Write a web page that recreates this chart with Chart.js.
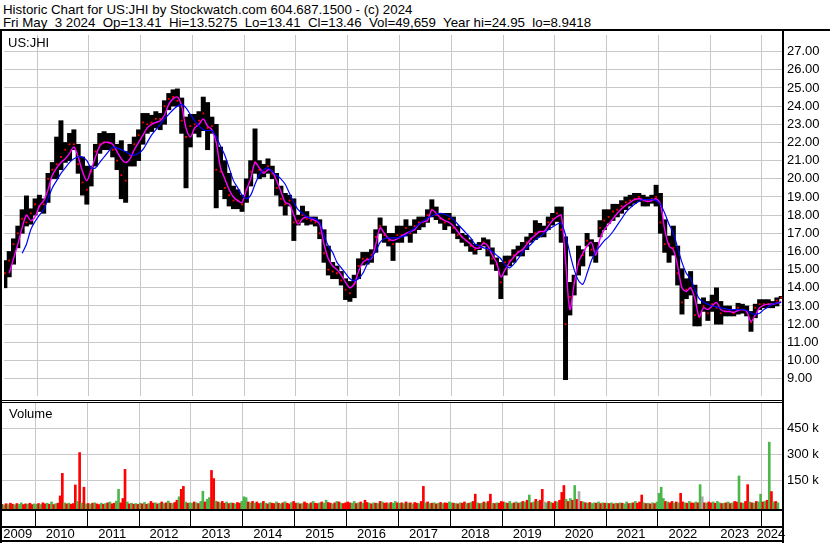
<!DOCTYPE html>
<html>
<head>
<meta charset="utf-8">
<script src="https://cdn.jsdelivr.net/npm/chart.js@4.4.1/dist/chart.umd.min.js"></script>
<style>
  body { margin: 0; background: #fff; }
  #page { position: relative; width: 830px; height: 543px; overflow: hidden;
          font-family: "Liberation Sans", Arial, sans-serif; color: #000; background: #fff; }
  .txt { position: absolute; white-space: pre; line-height: 13px; }
  .hdr { left: 3px; font-size: 13.3px; }
  .lbl { font-size: 13px; }
  .rule { position: absolute; background: #000; }
  .box { position: absolute; }
</style>
</head>
<body>
<div id="page">
  <div class="txt hdr" style="top:3px">Historic Chart for US:JHI by Stockwatch.com 604.687.1500 - (c) 2024</div>
  <div class="txt hdr" style="top:16px">Fri May  3 2024  Op=13.41  Hi=13.5275  Lo=13.41  Cl=13.46  Vol=49,659  Year hi=24.95  lo=8.9418</div>

  <div class="box" style="left:0; top:31px; width:830px; height:369px"><canvas id="priceChart"></canvas></div>
  <div class="box" style="left:0; top:403px; width:830px; height:140px"><canvas id="volChart"></canvas></div>

  <div class="txt lbl" style="left:8px; top:36px">US:JHI</div>
  <div class="txt lbl" style="left:9px; top:407px">Volume</div>

  <!-- frame -->
  <div class="rule" style="left:0; top:29px; width:830px; height:2px"></div>
  <div class="rule" style="left:0; top:29px; width:2px; height:514px"></div>
  <div class="rule" style="left:782px; top:29px; width:2px; height:514px"></div>
  <div class="rule" style="left:0; top:400px; width:782px; height:1px"></div>
  <div class="rule" style="left:0; top:402px; width:782px; height:1px"></div>
  <div class="rule" style="left:0; top:509px; width:784px; height:2px"></div>
  <div class="rule" style="left:0; top:526px; width:784px; height:2px"></div>
  <div class="rule" style="left:0; top:540px; width:784px; height:2px"></div>
</div>

<script>
// monthly bars, May 2009 .. May 2024
const START_YEAR = 2009;
const START_MONTH = 5;

const priceHi = [
  15.5, 16.0, 16.7, 17.4, 18.3, 19.06, 18.35, 18.9,                              // 2009
  19.1, 18.9, 20.3, 20.9, 22.3, 23.2, 22.0, 22.5, 22.7, 21.9, 21.2, 20.7,        // 2010
  20.7, 21.9, 22.5, 22.6, 22.5, 22.5, 21.9, 22.1, 21.5, 21.9, 22.3, 22.7,        // 2011
  23.6, 23.6, 23.5, 23.7, 23.6, 24.3, 24.7, 24.9, 24.95, 24.45, 23.4, 23.55,     // 2012
  23.55, 23.7, 24.5, 24.2, 23.4, 23.0, 21.75, 21.0, 20.3, 19.6, 19.4, 19.1,      // 2013
  20.0, 21.0, 22.75, 21.0, 20.8, 21.1, 20.7, 20.3, 19.6, 19.2, 19.1, 18.9,       // 2014
  18.0, 18.5, 18.2, 17.9, 17.9, 17.75, 17.2, 16.3, 15.4, 15.2, 14.9, 14.5,       // 2015
  14.35, 14.7, 15.6, 15.95, 15.95, 16.1, 17.2, 17.85, 17.4, 17.0, 17.0, 17.4,    // 2016
  17.4, 17.75, 17.4, 17.75, 17.9, 17.9, 18.3, 18.85, 18.45, 18.1, 18.1, 18.1,    // 2017
  17.9, 17.4, 17.0, 16.9, 16.65, 16.4, 16.5, 16.75, 16.65, 16.2, 15.65, 15.4,    // 2018
  15.75, 15.75, 16.1, 16.3, 16.5, 16.8, 17.0, 17.7, 17.55, 17.4, 17.9, 18.1,     // 2019
  18.45, 18.45, 16.8, 14.3, 14.7, 16.3, 16.1, 17.0, 16.65, 16.5, 17.7, 18.3,     // 2020
  18.3, 18.6, 18.6, 18.8, 19.0, 19.1, 19.2, 19.2, 19.1, 19.0, 19.1, 19.65,       // 2021
  19.2, 17.75, 16.85, 17.4, 16.3, 15.05, 14.5, 14.9, 14.15, 13.1, 13.45, 13.25,  // 2022
  13.6, 14.0, 13.25, 13.0, 13.0, 12.8, 13.15, 13.1, 13.0, 12.7, 13.1, 13.35,     // 2023
  13.35, 13.35, 13.25, 13.45, 13.53                                              // 2024
];

const priceLo = [
  14.0, 14.6, 15.3, 16.2, 17.0, 17.4, 17.5, 18.0,
  18.2, 18.1, 18.7, 20.0, 20.0, 20.5, 20.9, 21.0, 21.6, 20.3, 19.1, 18.6,
  19.6, 20.7, 21.4, 21.6, 21.6, 21.2, 20.5, 18.9, 18.7, 20.7, 20.7, 21.0,
  21.9, 22.5, 22.6, 22.8, 22.7, 23.0, 23.8, 24.0, 24.0, 22.5, 19.5, 21.75,
  22.5, 22.3, 22.65, 21.6, 22.5, 18.4, 19.4, 18.9, 18.5, 18.35, 18.35, 18.2,
  18.7, 19.6, 20.3, 20.0, 20.1, 20.3, 20.0, 19.1, 18.5, 18.0, 18.5, 16.6,
  17.45, 17.6, 17.45, 17.5, 17.4, 16.7, 15.4, 14.7, 14.5, 14.5, 14.15, 13.35,
  13.25, 13.45, 14.5, 15.25, 15.3, 15.4, 15.95, 17.0, 16.5, 16.3, 15.5, 16.5,
  16.5, 16.85, 16.5, 17.0, 17.2, 17.35, 17.6, 17.9, 17.75, 17.55, 17.2, 17.4,
  17.0, 16.7, 16.5, 16.3, 16.0, 15.85, 16.1, 16.3, 15.75, 15.3, 14.95, 13.4,
  14.7, 15.2, 15.4, 15.75, 15.75, 16.1, 16.5, 16.65, 16.8, 16.8, 17.2, 17.45,
  17.65, 16.5, 8.95, 12.5, 13.6, 14.7, 15.2, 16.3, 15.75, 15.4, 16.8, 17.2,
  17.55, 17.7, 17.9, 18.1, 18.3, 18.5, 18.65, 18.75, 18.5, 18.5, 18.65, 18.5,
  17.0, 15.95, 15.4, 15.8, 14.15, 12.55, 13.4, 13.6, 11.9, 11.9, 12.7, 12.2,
  12.7, 12.0, 12.0, 12.45, 12.45, 12.45, 12.55, 12.6, 12.45, 11.6, 12.35, 12.8,
  12.9, 12.9, 12.9, 13.0, 13.41
];

const priceClose = [
  14.8, 15.5, 16.4, 17.0, 17.8, 17.6, 18.1, 18.6,
  18.5, 18.6, 20.0, 20.5, 20.8, 21.2, 21.6, 21.9, 21.9, 20.8, 19.8, 19.4,
  20.4, 21.5, 21.9, 22.0, 22.0, 21.6, 21.0, 20.2, 19.9, 21.3, 21.9, 22.4,
  23.1, 23.0, 23.1, 23.3, 23.3, 24.0, 24.4, 24.5, 24.3, 23.2, 22.3, 22.9,
  23.0, 23.2, 23.6, 22.8, 22.9, 20.5, 20.4, 19.5, 19.1, 18.8, 18.8, 18.6,
  19.4, 20.4, 20.9, 20.5, 20.4, 20.7, 20.3, 19.5, 18.9, 18.6, 18.8, 17.6,
  17.7, 18.0, 17.8, 17.7, 17.6, 17.0, 15.9, 15.0, 14.9, 14.8, 14.4, 13.9,
  13.7, 14.2, 15.2, 15.6, 15.6, 15.8, 16.8, 17.4, 16.9, 16.6, 16.4, 16.9,
  16.9, 17.3, 17.0, 17.4, 17.6, 17.6, 18.0, 18.3, 18.0, 17.8, 17.6, 17.8,
  17.3, 16.9, 16.8, 16.6, 16.3, 16.1, 16.3, 16.5, 16.1, 15.6, 15.3, 14.3,
  15.4, 15.5, 15.8, 16.0, 16.1, 16.5, 16.7, 17.0, 17.1, 17.1, 17.6, 17.8,
  18.1, 17.2, 12.0, 13.5, 14.3, 15.3, 15.8, 16.6, 16.1, 15.9, 17.3, 17.7,
  17.9, 18.2, 18.3, 18.5, 18.7, 18.8, 18.9, 19.0, 18.8, 18.8, 18.9, 19.0,
  17.6, 16.4, 16.4, 16.2, 14.8, 13.2, 13.9, 14.0, 12.5, 12.4, 13.0, 12.6,
  13.1, 12.9, 12.6, 12.7, 12.7, 12.6, 12.9, 12.8, 12.7, 12.1, 12.9, 13.1,
  13.1, 13.1, 13.1, 13.3, 13.46
];

// short moving average (magenta)
const maFast = [
  null, 14.8, 15.6, 16.4, 17.3, 18.0, 17.7, 17.9,
  18.5, 18.8, 19.4, 20.2, 20.6, 20.9, 21.1, 21.4, 21.75, 21.2, 20.4, 19.9,
  20.5, 21.2, 21.8, 22.0, 22.0, 21.9, 21.5, 21.1, 20.9, 21.1, 21.6, 22.0,
  22.4, 22.8, 23.0, 23.1, 23.2, 23.5, 24.1, 24.4, 24.5, 24.0, 22.8, 22.3,
  22.8, 23.0, 23.3, 22.9, 22.7, 22.0, 20.6, 20.0, 19.4, 19.0, 18.8, 18.7,
  19.4, 20.0, 20.9, 20.6, 20.3, 20.5, 20.4, 19.9, 19.3, 18.7, 18.6, 18.0,
  17.5, 17.8, 17.9, 17.8, 17.7, 17.5, 16.4, 15.6, 15.2, 15.0, 14.7, 14.3,
  14.0, 14.2, 14.9, 15.4, 15.55, 15.6, 16.4, 17.3, 17.0, 16.7, 16.6, 16.7,
  16.85, 17.0, 17.1, 17.2, 17.5, 17.65, 17.7, 18.3, 18.1, 17.85, 17.7, 17.6,
  17.4, 17.1, 16.8, 16.6, 16.4, 16.2, 16.2, 16.45, 16.3, 15.8, 15.4, 14.6,
  15.0, 15.4, 15.7, 15.95, 16.1, 16.4, 16.7, 16.9, 17.1, 17.1, 17.4, 17.7,
  17.9, 18.0, 15.5, 12.8, 14.2, 15.4, 15.9, 16.3, 16.5, 15.8, 16.7, 17.2,
  17.5, 17.8, 18.1, 18.35, 18.55, 18.7, 18.85, 18.9, 18.85, 18.75, 18.8, 18.9,
  18.6, 17.2, 16.3, 16.1, 15.2, 14.0, 13.8, 14.0, 13.4, 12.4, 12.9, 12.8,
  13.0, 13.2, 12.8, 12.7, 12.7, 12.65, 12.75, 12.8, 12.7, 12.15, 12.5, 12.9,
  13.05, 13.1, 13.1, 13.15, 13.25
];

// long moving average (blue)
const maSlow = [
  null, null, null, null, 15.9, 16.4, 17.2, 17.65,
  18.0, 18.3, 18.9, 19.5, 19.9, 20.3, 20.6, 20.9, 21.1, 21.2, 21.2, 21.0,
  20.6, 20.6, 20.9, 21.2, 21.5, 21.75, 21.7, 21.6, 21.5, 21.35, 21.3, 21.4,
  21.6, 22.0, 22.4, 22.7, 23.0, 23.3, 23.55, 23.8, 24.0, 24.1, 23.9, 23.55,
  23.2, 22.9, 22.7, 22.65, 22.65, 22.3, 21.8, 21.3, 20.6, 19.9, 19.5, 19.1,
  18.9, 19.1, 19.7, 20.2, 20.5, 20.6, 20.4, 20.2, 20.0, 19.7, 19.2, 18.7,
  18.3, 18.1, 17.9, 17.85, 17.8, 17.6, 16.9, 16.3, 15.95, 15.4, 15.1, 14.8,
  14.5, 14.4, 14.5, 14.8, 15.3, 15.7, 16.0, 16.5, 16.7, 16.75, 16.75, 16.75,
  16.8, 16.9, 17.1, 17.3, 17.5, 17.65, 17.85, 17.95, 18.05, 18.1, 18.05, 17.95,
  17.75, 17.5, 17.25, 17.0, 16.75, 16.4, 16.3, 16.2, 16.15, 16.0, 15.8, 15.6,
  15.25, 15.1, 15.3, 15.6, 15.95, 16.2, 16.4, 16.65, 16.8, 17.0, 17.2, 17.35,
  17.5, 17.55, 16.9, 15.9, 15.0, 14.4, 14.2, 14.8, 15.5, 16.0, 16.3, 16.6,
  16.8, 17.1, 17.45, 17.8, 18.15, 18.4, 18.6, 18.75, 18.85, 18.85, 18.85, 18.8,
  18.6, 18.1, 17.5, 17.0, 16.2, 15.4, 14.8, 14.5, 13.9, 13.4, 13.2, 13.1,
  13.0, 12.95, 12.9, 12.85, 12.8, 12.8, 12.8, 12.8, 12.75, 12.6, 12.55, 12.6,
  12.8, 12.95, 13.1, 13.15, 13.2
];

// half-month volume in thousands, May 2009 .. Apr 2024
const volume = [
  12, 8, 15, 10, 18, 12, 9, 16, 11, 20, 10, 14, 12, 18, 10, 14,
  12, 16, 10, 20, 14, 18, 12, 25, 10, 15, 18, 60, 190, 20, 14, 18, 12, 16, 123, 28, 310, 18, 110, 14,
  16, 12, 18, 20, 14, 10, 18, 12, 16, 20, 25, 14, 18, 30, 98, 20, 45, 213, 25, 14, 18, 12, 16, 11,
  18, 14, 22, 12, 16, 28, 18, 20, 14, 18, 25, 16, 20, 30, 18, 16, 22, 35, 55, 98, 115, 25, 18, 20,
  18, 25, 20, 16, 28, 87, 25, 40, 50, 207, 160, 30, 25, 20, 28, 18, 25, 16, 20, 18, 14, 22, 18, 28,
  55, 50, 25, 20, 28, 18, 25, 16, 20, 28, 18, 14, 22, 18, 16, 25, 18, 14, 20, 26, 18, 14, 22, 28,
  18, 20, 14, 16, 25, 18, 14, 20, 28, 18, 16, 20, 25, 18, 35, 22, 18, 14, 20, 28, 25, 18, 16, 20,
  25, 20, 18, 28, 16, 20, 25, 18, 35, 22, 18, 14, 20, 18, 16, 28, 25, 18, 20, 16, 22, 18, 28, 20,
  18, 20, 16, 25, 18, 20, 14, 22, 18, 16, 28, 115, 20, 25, 16, 18, 20, 14, 18, 22, 16, 20, 18, 25,
  20, 18, 16, 14, 20, 18, 25, 16, 18, 22, 28, 70, 20, 16, 18, 25, 20, 28, 70, 18, 16, 20, 18, 28,
  25, 20, 18, 28, 16, 20, 25, 18, 22, 28, 25, 35, 65, 20, 25, 40, 28, 35, 98, 25, 20, 28, 22, 18,
  28, 25, 35, 80, 120, 40, 28, 45, 35, 120, 40, 85, 28, 25, 20, 18, 22, 16, 20, 18, 25, 16, 20, 18,
  18, 16, 20, 14, 18, 16, 20, 18, 14, 25, 16, 18, 20, 28, 18, 25, 65, 20, 16, 18, 14, 20, 16, 25,
  75, 110, 45, 28, 25, 20, 28, 18, 25, 20, 75, 25, 20, 18, 28, 20, 18, 25, 20, 125, 55, 20, 18, 25,
  20, 25, 18, 28, 20, 16, 18, 20, 25, 16, 20, 28, 25, 175, 20, 18, 28, 125, 25, 20, 18, 28, 25, 70,
  25, 28, 35, 370, 85, 25, 28, 20
];

// g = up, r = down, n = unchanged
const volDir =
  "rgrgrrgrggrrgrrg" +
  "grgrrgrgrgrrrgrgrrrgrgrg" +
  "rgrgrrgrgrgrrggrrrgrgrgr" +
  "grgrgrrgrgrgrgrgrrgrrgrg" +
  "grgrggrggrrgrgrrgrgrgrrg" +
  "ggrgrgrrgrgrgrrgrgrgrrgr" +
  "rgrgrrgrgrrgrggrrgrgrgrr" +
  "rrggrgrgrrgrgrgrgrrgrggr" +
  "grgrgrgrrgrrgrgrgrgrgrrg" +
  "grgrgrrgrgrrgrgrgrrgrgrr" +
  "rgrggrgrgrgrgrgrgrrngrgr" +
  "rgrrrgrgrgrnrgrgrggrgrgr" +
  "grgrgrgrggrgrgrrrgrgrgrg" +
  "gggrgrrgrgrrgrgrrgrgnrgr" +
  "rgrggrgrgrgrrgrgrrgrgrgg" +
  "rgrgrgrg";

const priceTicks = [9, 10, 11, 12, 13, 14, 15, 16, 17, 18, 19, 20, 21, 22, 23, 24, 25, 26, 27];
const volTicks = [150000, 300000, 450000];
const yearLines = [2010, 2011, 2012, 2013, 2014, 2015, 2016, 2017, 2018, 2019, 2020, 2021, 2022, 2023, 2024];

const X_MIN = 2009.358, X_MAX = 2024.391;
const P_MIN = 8.045, P_MAX = 27.915;
const V_MIN = -15600, V_MAX = 596000;

const GRID = '#c8c8c8';
const UP = '#4cb84c', DOWN = '#ff0000', FLAT = '#a8a8a8';

Chart.defaults.font.family = "'Liberation Sans', Arial, sans-serif";
Chart.defaults.font.size = 13;
Chart.defaults.color = '#000';

const monthT = priceHi.map((_, i) => START_YEAR + (START_MONTH - 1 + i + 0.5) / 12);
const halfT = volume.map((_, i) => START_YEAR + ((START_MONTH - 1) * 2 + i + 0.5) / 24);

function fixX(s, h) {
  s.height = h;
  s.paddingLeft = 0;
  s.paddingRight = 0;
}
function fixY(s) {
  s.width = 48;
  s.paddingTop = 0;
  s.paddingBottom = 0;
}
const yearTicks = s => { s.ticks = yearLines.map(v => ({ value: v })); };

new Chart(document.getElementById('priceChart'), {
  type: 'bar',
  data: {
    datasets: [
      {
        type: 'line', label: 'slow',
        data: monthT.map((t, i) => ({ x: t, y: maSlow[i] })),
        borderColor: '#0000ff', borderWidth: 1.2, pointRadius: 0, tension: 0.3, order: 0
      },
      {
        type: 'line', label: 'fast',
        data: monthT.map((t, i) => ({ x: t, y: maFast[i] })),
        borderColor: '#ff00ff', borderWidth: 1.4, pointRadius: 0, tension: 0.3, order: 1
      },
      {
        type: 'line', label: 'close', showLine: false,
        data: monthT.map((t, i) => ({ x: t, y: priceClose[i] })),
        pointStyle: 'rect', pointRadius: 1.3, pointBorderWidth: 0,
        pointBackgroundColor: '#ff0000', order: 2
      },
      {
        type: 'bar', label: 'range',
        data: monthT.map((t, i) => ({ x: t, y: [priceLo[i], priceHi[i]] })),
        backgroundColor: '#000', barPercentage: 1, categoryPercentage: 1, order: 3
      }
    ]
  },
  options: {
    responsive: true, maintainAspectRatio: false, animation: false, devicePixelRatio: 1,
    events: [],
    layout: { padding: { left: 2, right: 0, top: 0, bottom: 0 } },
    plugins: { legend: { display: false }, tooltip: { enabled: false } },
    scales: {
      x: {
        type: 'linear', min: X_MIN, max: X_MAX, offset: false,
        afterBuildTicks: yearTicks,
        afterFit: s => fixX(s, 0),
        ticks: { display: false },
        grid: { color: GRID, drawTicks: false, offset: false },
        border: { display: false }
      },
      y: {
        position: 'right', min: P_MIN, max: P_MAX,
        afterBuildTicks: s => { s.ticks = priceTicks.map(v => ({ value: v })); },
        afterFit: fixY,
        ticks: { padding: 5, callback: v => v.toFixed(2) },
        grid: { color: GRID, drawTicks: false },
        border: { display: false }
      }
    }
  }
});

new Chart(document.getElementById('volChart'), {
  type: 'bar',
  data: {
    datasets: [{
      label: 'Volume',
      data: halfT.map((t, i) => ({ x: t, y: volume[i] * 1000 })),
      backgroundColor: volDir.split('').map(c => c === 'g' ? UP : c === 'r' ? DOWN : FLAT),
      barThickness: 2, base: V_MIN
    }]
  },
  options: {
    responsive: true, maintainAspectRatio: false, animation: false, devicePixelRatio: 1,
    events: [],
    layout: { padding: { left: 2, right: 0, top: 0, bottom: 0 } },
    plugins: { legend: { display: false }, tooltip: { enabled: false } },
    scales: {
      x: {
        type: 'linear', min: X_MIN, max: X_MAX, offset: false, weight: 0,
        afterBuildTicks: yearTicks,
        afterFit: s => fixX(s, 18),
        ticks: { display: false },
        grid: { color: GRID, drawTicks: true, tickLength: 18, tickColor: '#000', tickWidth: 1, offset: false },
        border: { display: false }
      },
      xl: {
        type: 'linear', position: 'bottom', axis: 'x', min: X_MIN, max: X_MAX, offset: false, weight: 1,
        afterBuildTicks: s => {
          const edges = [X_MIN].concat(yearLines, [X_MAX]);
          s.ticks = edges.slice(1).map((e, i) => ({ value: (edges[i] + e) / 2 }));
        },
        afterFit: s => fixX(s, 16),
        ticks: { autoSkip: false, maxRotation: 0, padding: 0, labelOffset: -1,
                 callback: v => String(Math.floor(v)) },
        grid: { display: false, drawTicks: false },
        border: { display: false }
      },
      y: {
        position: 'right', min: V_MIN, max: V_MAX,
        afterBuildTicks: s => { s.ticks = volTicks.map(v => ({ value: v })); },
        afterFit: fixY,
        ticks: { padding: 5, callback: v => (v / 1000) + ' k' },
        grid: { color: GRID, drawTicks: false },
        border: { display: false }
      }
    }
  }
});
</script>
</body>
</html>
